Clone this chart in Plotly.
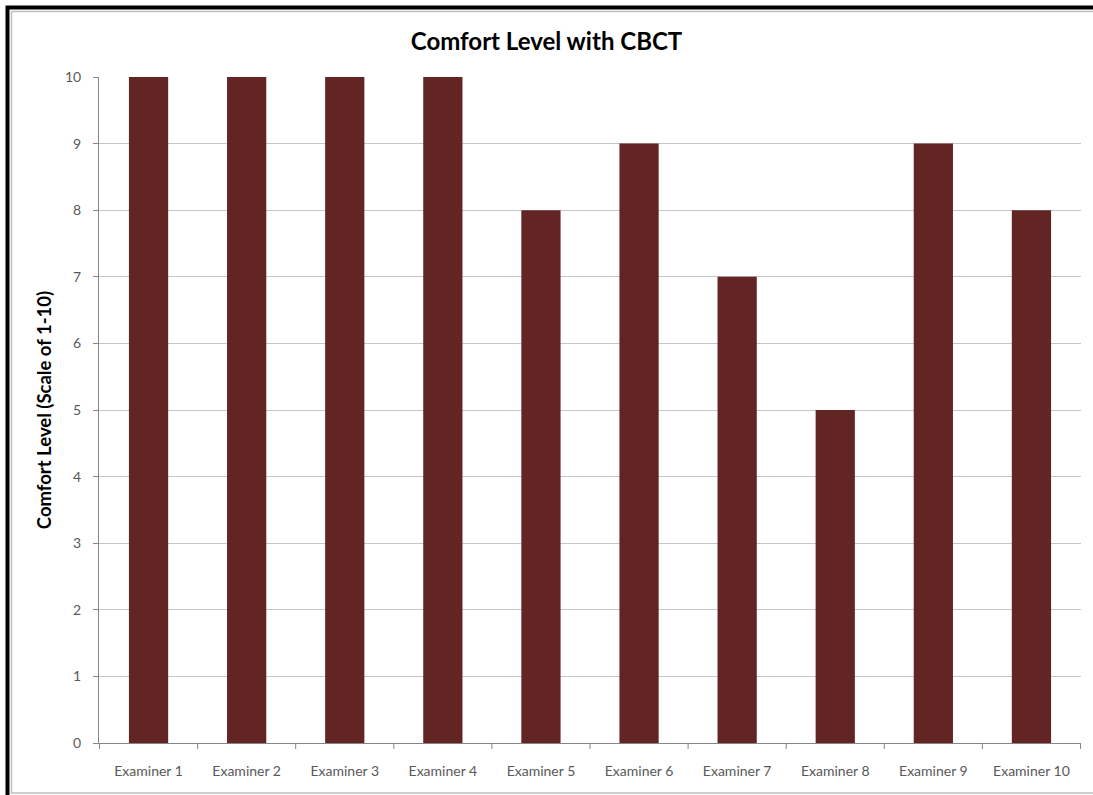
import plotly.graph_objects as go

examiners = ["Examiner 1", "Examiner 2", "Examiner 3", "Examiner 4", "Examiner 5",
             "Examiner 6", "Examiner 7", "Examiner 8", "Examiner 9", "Examiner 10"]
comfort = [10, 10, 10, 10, 8, 9, 7, 5, 9, 8]
y_ticks = list(range(0, 11))

W, H = 1093, 795
L, R, T, B = 99, 1081, 77, 743


def px(x):
    return (x - L) / (R - L)


def py(y):
    return (B - y) / (B - T)


fig = go.Figure(go.Bar(
    x=examiners, y=comfort,
    marker=dict(color="#632523", line=dict(width=0)),
))

shapes = [
    # outer dark frame (left and top edges)
    dict(type="path", xref="paper", yref="paper",
         path=f"M {px(7.5)} {py(800)} L {px(7.5)} {py(7.5)} L {px(1100)} {py(7.5)}",
         line=dict(color="#000000", width=4)),
    # inner light frame
    dict(type="rect", xref="paper", yref="paper",
         x0=px(11.5), x1=px(1100), y0=py(793), y1=py(11.5),
         line=dict(color="#bfbfbf", width=1.5)),
]

fig.update_layout(
    width=W, height=H,
    margin=dict(l=L, r=W - R, t=T, b=H - B),
    paper_bgcolor="white", plot_bgcolor="white",
    font=dict(family="Lato, Carlito, sans-serif", color="#595959", size=13),
    title=dict(text="<b>Comfort Level with CBCT</b>", x=0.5, xanchor="center",
               y=1 - 42 / H, yanchor="middle",
               font=dict(size=24, color="#000000")),
    bargap=0.6,
    showlegend=False,
    shapes=shapes,
    xaxis=dict(showgrid=False, showline=True, linecolor="#868686", linewidth=1,
               ticks="", tickfont=dict(size=14, color="#595959"),
               ticklabelstandoff=15),
    yaxis=dict(range=[0, 10], tickvals=y_ticks, showgrid=True, gridcolor="#c6c6c6",
               gridwidth=1, showline=True, linecolor="#868686", linewidth=1,
               ticks="outside", ticklen=5, tickcolor="#868686",
               tickfont=dict(size=14, color="#595959"), zeroline=False,
               ticklabelstandoff=9,
               title=dict(text="<b>Comfort Level (Scale of 1-10)</b>",
                          font=dict(size=18.5, color="#000000"), standoff=8)),
)

# category boundary tick marks below the x axis
for i in range(len(examiners) + 1):
    fig.add_shape(type="line", xref="x", yref="paper",
                  x0=i - 0.5, x1=i - 0.5, y0=0, y1=-6 / (B - T),
                  line=dict(color="#868686", width=1))

fig.write_html("out.html")
